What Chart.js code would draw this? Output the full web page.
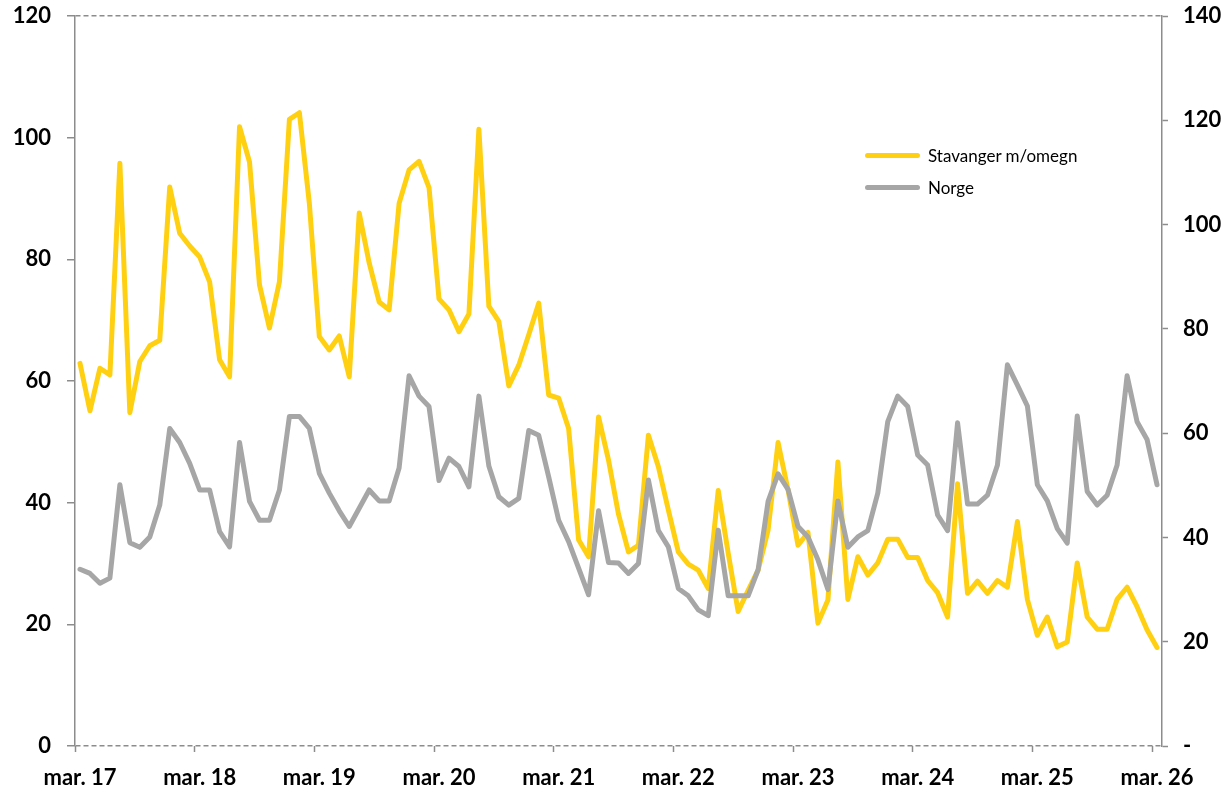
<!DOCTYPE html>
<html>
<head>
<meta charset="utf-8">
<script src="https://cdn.jsdelivr.net/npm/chart.js@4.4.1/dist/chart.umd.min.js"></script>
<style>
  html, body { margin: 0; padding: 0; background: #fff; }
  #wrap { position: relative; width: 1231px; height: 796px; }
  #legend { position: absolute; left: 865px; top: 139px; font-family: Lato, sans-serif; font-size: 17px; color: #000; }
  .item { display: flex; align-items: center; height: 32px; }
  .swatch { width: 55px; height: 5px; border-radius: 3px; margin-right: 8px; }
</style>
</head>
<body>
<div id="wrap">
  <canvas id="chart" width="1231" height="796"></canvas>
  <div id="legend"></div>
</div>
<script>
// månedlige verdier, mar. 17 - mar. 26
const monthNames = ['jan', 'feb', 'mar', 'apr', 'mai', 'jun', 'jul', 'aug', 'sep', 'okt', 'nov', 'des'];
const firstMonth = 2;
const firstYear = 17;
const monthCount = 109;

// venstre akse
const stavanger = [
  62.9, 55.1, 62.1, 61.0, 95.8, 54.8, 63.2, 65.8, 66.7, 91.9, 84.3, 82.2,
  80.4, 76.3, 63.5, 60.7, 101.8, 96.0, 75.8, 68.7, 76.3, 103.0, 104.1, 89.2,
  67.3, 65.1, 67.4, 60.7, 87.6, 79.4, 73.0, 71.7, 89.2, 94.7, 96.1, 91.8,
  73.5, 71.7, 68.1, 71.0, 101.4, 72.3, 69.8, 59.2, 62.6, 67.6, 72.8, 57.7,
  57.2, 52.2, 33.9, 31.1, 54.1, 47.0, 38.1, 31.9, 33.0, 51.1, 45.9, 38.8,
  31.9, 29.9, 28.9, 25.9, 42.0, 31.7, 22.1, 25.6, 28.9, 35.5, 49.9, 42.1,
  33.0, 35.1, 20.2, 24.0, 46.7, 24.1, 31.1, 28.1, 30.1, 34.0, 34.0, 31.0,
  31.0, 27.2, 25.2, 21.2, 43.1, 25.1, 27.1, 25.1, 27.2, 26.1, 36.9, 24.1,
  18.2, 21.2, 16.3, 17.1, 30.1, 21.2, 19.2, 19.2, 24.1, 26.1, 22.9, 19.1,
  16.2
];

// høyre akse
const norge = [
  33.9, 33.1, 31.2, 32.2, 50.1, 39.0, 38.1, 40.1, 46.2, 60.9, 58.2, 54.2,
  49.1, 49.1, 41.1, 38.2, 58.2, 46.9, 43.3, 43.3, 49.1, 63.2, 63.2, 60.9,
  52.3, 48.5, 45.1, 42.1, 45.6, 49.1, 47.0, 47.0, 53.3, 71.0, 67.1, 65.1,
  50.9, 55.2, 53.6, 49.7, 67.1, 53.7, 47.8, 46.2, 47.5, 60.5, 59.6, 51.6,
  43.3, 39.2, 34.1, 29.0, 45.1, 35.2, 35.1, 33.1, 35.0, 51.0, 41.3, 38.2,
  30.2, 28.8, 26.1, 25.0, 41.4, 28.8, 28.8, 28.8, 33.8, 46.9, 52.2, 49.2,
  42.1, 40.1, 35.7, 30.0, 47.0, 38.1, 40.1, 41.3, 48.5, 62.2, 67.1, 65.1,
  55.8, 53.9, 44.3, 41.3, 62.0, 46.4, 46.4, 48.1, 53.9, 73.1, 69.2, 65.2,
  50.1, 47.0, 41.7, 38.9, 63.3, 48.8, 46.2, 48.1, 53.9, 71.0, 62.2, 58.8,
  50.1
];

const leftTicks = { min: 0, max: 120, step: 20 };
const rightTicks = { min: 0, max: 140, step: 20 };

const labels = [];
for (let i = 0; i < monthCount; i++) {
  const m = (firstMonth + i) % 12;
  const y = firstYear + Math.floor((firstMonth + i) / 12);
  labels.push(monthNames[m] + '. ' + y);
}

const axisGray = '#8c8c8c';
const tickFont = { family: 'Lato', size: 22, weight: 'bold' };

const datasets = [
  { label: 'Stavanger m/omegn', data: stavanger, borderColor: '#ffd012', yAxisID: 'y' },
  { label: 'Norge', data: norge, borderColor: '#a6a6a6', yAxisID: 'y1' }
];
datasets.forEach(ds => {
  ds.borderWidth = 5;
  ds.pointRadius = 0;
  ds.tension = 0;
  ds.fill = false;
  ds.borderJoinStyle = 'round';
  ds.borderCapStyle = 'round';
});

// fast bredde på y-aksene, ingen ekstra luft over/under
const fixWidth = w => s => {
  s.width = w;
  s.paddingTop = 0;
  s.paddingBottom = 0;
};

const chart = new Chart(document.getElementById('chart'), {
  type: 'line',
  data: { labels: labels, datasets: datasets.slice().reverse() },
  options: {
    responsive: false,
    animation: false,
    layout: { padding: { top: 16, left: 0, right: 0, bottom: 0 } },
    plugins: { legend: { display: false }, tooltip: { enabled: false } },
    scales: {
      x: {
        type: 'category',
        offset: true,
        afterFit: s => { s.height = 50; },
        border: { display: false },
        grid: {
          offset: true,
          drawOnChartArea: false,
          tickLength: 6,
          tickWidth: 1.5,
          tickColor: ctx => (ctx.index !== undefined && ctx.index % 12 === 0) ? axisGray : 'transparent'
        },
        ticks: {
          autoSkip: false,
          maxRotation: 0,
          minRotation: 0,
          padding: 13,
          color: '#000',
          font: tickFont,
          callback: (v, i) => i % 12 === 0 ? labels[i] : ''
        }
      },
      y: {
        position: 'left',
        min: leftTicks.min,
        max: leftTicks.max,
        afterFit: fixWidth(75),
        border: { display: true, color: axisGray, width: 1.5, dash: [5, 3] },
        grid: {
          lineWidth: 1.5,
          color: ctx => (ctx.tick && (ctx.tick.value === leftTicks.max || ctx.tick.value === 0)) ? axisGray : 'transparent',
          tickColor: axisGray,
          tickLength: 8,
          tickWidth: 1.5
        },
        ticks: { stepSize: leftTicks.step, padding: 16, color: '#000', font: tickFont }
      },
      y1: {
        position: 'right',
        min: rightTicks.min,
        max: rightTicks.max,
        afterFit: fixWidth(69),
        border: { display: true, color: axisGray, width: 1.5 },
        grid: { drawOnChartArea: false, tickColor: axisGray, tickLength: 6, tickWidth: 1.5 },
        ticks: {
          stepSize: rightTicks.step,
          padding: 15,
          color: '#000',
          font: tickFont,
          callback: v => v === 0 ? '-' : v
        }
      }
    }
  }
});

// legende
const legendEl = document.getElementById('legend');
datasets.forEach(ds => {
  const row = document.createElement('div');
  row.className = 'item';
  const sw = document.createElement('span');
  sw.className = 'swatch';
  sw.style.background = ds.borderColor;
  const txt = document.createElement('span');
  txt.innerText = ds.label;
  row.appendChild(sw);
  row.appendChild(txt);
  legendEl.appendChild(row);
});
</script>
</body>
</html>
